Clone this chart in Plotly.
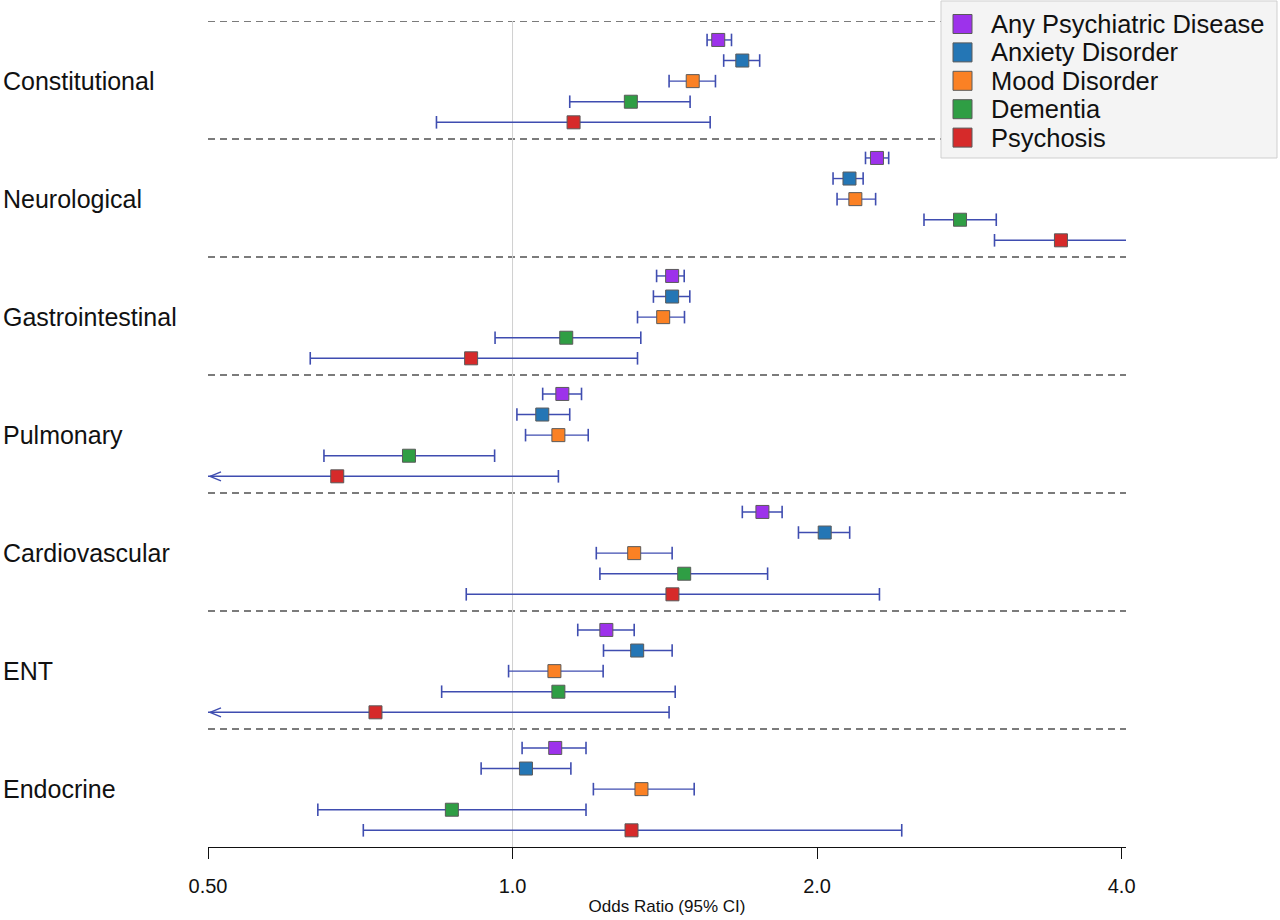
import math
import plotly.graph_objects as go

groups = ["Constitutional", "Neurological", "Gastrointestinal", "Pulmonary",
          "Cardiovascular", "ENT", "Endocrine"]
series = ["Any Psychiatric Disease", "Anxiety Disorder", "Mood Disorder", "Dementia", "Psychosis"]
colors = ["#9d32eb", "#2476b5", "#fb8124", "#2f9e44", "#d62a2a"]

# odds ratios per group, in series order
or_constitutional = [1.597, 1.687, 1.507, 1.309, 1.149]
lo_constitutional = [1.557, 1.617, 1.428, 1.139, 0.841]
hi_constitutional = [1.646, 1.755, 1.587, 1.498, 1.568]

or_neurological = [2.292, 2.153, 2.182, 2.769, 3.484]
lo_neurological = [2.233, 2.074, 2.093, 2.551, 2.995]
hi_neurological = [2.354, 2.221, 2.285, 3.007, 4.048]

or_gastro = [1.438, 1.438, 1.409, 1.130, 0.910]
lo_gastro = [1.388, 1.378, 1.329, 0.961, 0.631]
hi_gastro = [1.478, 1.497, 1.479, 1.339, 1.329]

or_pulmonary = [1.120, 1.070, 1.110, 0.790, 0.671]
lo_pulmonary = [1.071, 1.010, 1.030, 0.651, 0.44]
hi_pulmonary = [1.170, 1.139, 1.188, 0.960, 1.110]

or_cardio = [1.766, 2.035, 1.319, 1.478, 1.439]
lo_cardio = [1.687, 1.917, 1.210, 1.220, 0.900]
hi_cardio = [1.847, 2.154, 1.438, 1.787, 2.305]

or_ent = [1.238, 1.328, 1.100, 1.110, 0.732]
lo_ent = [1.160, 1.230, 0.991, 0.851, 0.45]
hi_ent = [1.319, 1.438, 1.229, 1.448, 1.428]

or_endocrine = [1.102, 1.031, 1.341, 0.871, 1.311]
lo_endocrine = [1.022, 0.931, 1.202, 0.642, 0.712]
hi_endocrine = [1.182, 1.142, 1.512, 1.182, 2.425]

tick_vals = [0.5, 1.0, 2.0, 4.0]
tick_text = ["0.50", "1.0", "2.0", "4.0"]

ORS = [or_constitutional, or_neurological, or_gastro, or_pulmonary, or_cardio, or_ent, or_endocrine]
LOS = [lo_constitutional, lo_neurological, lo_gastro, lo_pulmonary, lo_cardio, lo_ent, lo_endocrine]
HIS = [hi_constitutional, hi_neurological, hi_gastro, hi_pulmonary, hi_cardio, hi_ent, hi_endocrine]

# layout constants
W, H = 1280, 920
ML, MR, MT, MB = 208, 154, 21, 73
G = 5.73          # rows per group block
ROW0 = 0.92       # offset of first row within block
XMIN, XMAX = 0.5, 4.04
plot_w = W - ML - MR
plot_h = H - MT - MB
px_per_log10 = plot_w / (math.log10(XMAX) - math.log10(XMIN))
ci_color = "#3f4db0"

def px_shift(x, px):
    return x * 10 ** (px / px_per_log10)

def pxx(px):   # pixel x -> paper x
    return (px - ML) / plot_w

def pxy(py):   # pixel y -> paper y
    return 1 - (py - MT) / plot_h

fig = go.Figure()

# reference line at OR = 1
fig.add_shape(type="line", xref="x", yref="y", x0=1, x1=1, y0=0, y1=7 * G,
              line=dict(color="#d0d0d0", width=1), layer="below")
# dashed separators
for k in range(7):
    fig.add_shape(type="line", xref="paper", yref="y", x0=0, x1=1, y0=k * G, y1=k * G,
                  line=dict(color="#505050", width=1.5, dash="7px,5px"), layer="below")

for s_i, name in enumerate(series):
    for g_i in range(len(groups)):
        y = g_i * G + ROW0 + s_i
        lo = LOS[g_i][s_i]
        hi = HIS[g_i][s_i]
        lo_c = max(lo, XMIN)
        fig.add_trace(go.Scatter(x=[lo_c, hi], y=[y, y], mode="lines",
                                 line=dict(color=ci_color, width=1.4),
                                 showlegend=False, hoverinfo="skip", cliponaxis=False))
        cap_x = [hi] if lo < XMIN else [lo, hi]
        fig.add_trace(go.Scatter(x=cap_x, y=[y] * len(cap_x), mode="markers",
                                 marker=dict(symbol="line-ns", size=9,
                                             line=dict(color=ci_color, width=1.6)),
                                 showlegend=False, hoverinfo="skip", cliponaxis=False))
        if lo < XMIN:
            tip = px_shift(XMIN, 2)
            arm = px_shift(XMIN, 13)
            d = 4.5 / 20.6
            fig.add_trace(go.Scatter(x=[arm, tip, arm], y=[y - d, y, y + d], mode="lines",
                                     line=dict(color=ci_color, width=1.4),
                                     showlegend=False, hoverinfo="skip", cliponaxis=False))

for s_i, name in enumerate(series):
    xs = [ORS[g][s_i] for g in range(len(groups))]
    ys = [g * G + ROW0 + s_i for g in range(len(groups))]
    fig.add_trace(go.Scatter(x=xs, y=ys, mode="markers", name=name,
                             marker=dict(symbol="square", size=13, color=colors[s_i],
                                         line=dict(color="#5a5a5a", width=1)),
                             showlegend=False, cliponaxis=False))

# group labels
for g_i, gname in enumerate(groups):
    fig.add_annotation(xref="paper", yref="y", x=pxx(1), y=g_i * G + ROW0 + 2,
                       text=gname, showarrow=False, xanchor="left", yanchor="middle",
                       font=dict(size=25, color="#111111"))

# legend box (drawn)
fig.add_shape(type="rect", xref="paper", yref="paper", x0=pxx(941), x1=pxx(1277),
              y0=pxy(158), y1=pxy(1), fillcolor="#f4f4f4",
              line=dict(color="#cfcfcf", width=1), layer="above")
for s_i, name in enumerate(series):
    cy = 24 + s_i * 28.4
    fig.add_shape(type="rect", xref="paper", yref="paper", x0=pxx(953), x1=pxx(972),
                  y0=pxy(cy + 9.5), y1=pxy(cy - 9.5), fillcolor=colors[s_i],
                  line=dict(color="#5a5a5a", width=1), layer="above")
    fig.add_annotation(xref="paper", yref="paper", x=pxx(989), y=pxy(cy), text=name,
                       showarrow=False, xanchor="left", yanchor="middle",
                       font=dict(size=25.5, color="#111111"))

fig.update_layout(
    width=W, height=H,
    margin=dict(l=ML, r=MR, t=MT, b=MB, autoexpand=False),
    paper_bgcolor="white", plot_bgcolor="white",
    font=dict(family="Liberation Sans, Arial, sans-serif", color="#111111"),
    showlegend=False,
    xaxis=dict(type="log", range=[math.log10(XMIN), math.log10(XMAX)],
               tickvals=tick_vals, ticktext=tick_text, ticks="outside", ticklen=11,
               tickwidth=1, tickcolor="#111111", showline=True, linecolor="#111111",
               linewidth=1, showgrid=False, zeroline=False,
               tickfont=dict(size=20), ticklabelstandoff=10,
               title=dict(text="Odds Ratio (95% CI)", font=dict(size=17), standoff=4)),
    yaxis=dict(range=[7 * G, 0], showticklabels=False, showgrid=False, zeroline=False,
               showline=False, ticks=""),
)

fig.write_html("out.html", config={"displayModeBar": False},
               post_script="document.body.style.margin='0';document.body.style.overflow='hidden';")
